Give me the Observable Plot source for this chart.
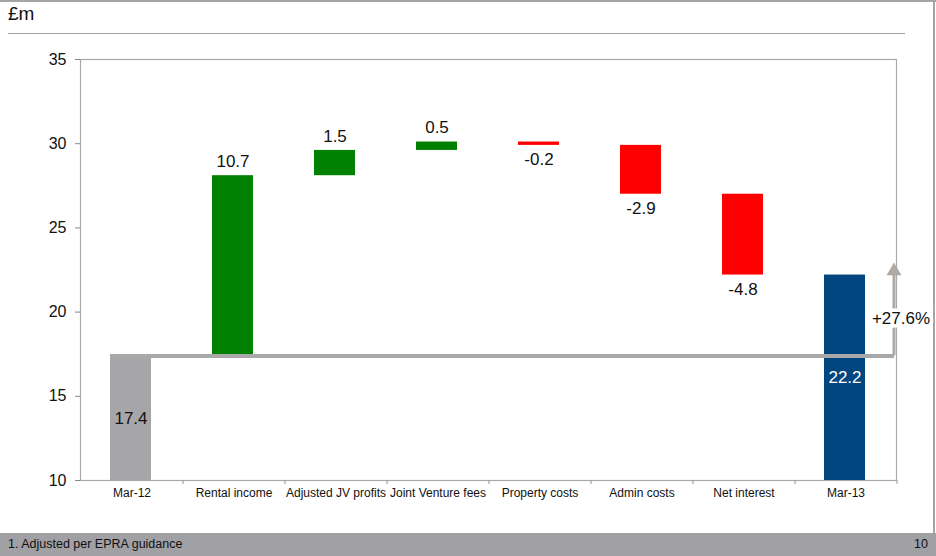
<!DOCTYPE html>
<html>
<head>
<meta charset="utf-8">
<script src="https://cdn.jsdelivr.net/npm/d3@7"></script>
<script src="https://cdn.jsdelivr.net/npm/@observablehq/plot@0.6"></script>
<style>
  html, body { margin: 0; padding: 0; background: #fff; }
  #page { position: relative; width: 936px; height: 556px; overflow: hidden; font-family: "Liberation Sans", Arial, sans-serif; }
  #unit { position: absolute; left: 8px; top: 3px; font-size: 19px; color: #111; }
  #hline { position: absolute; left: 8px; top: 33px; width: 897px; height: 0; border-top: 1px solid #a0a0a0; }
  #topline { position: absolute; left: 0; top: 0; width: 936px; height: 0; border-top: 2px solid #a4a4a4; }
  #rightline { position: absolute; left: 933px; top: 0; width: 0; height: 533px; border-left: 2px solid #a4a4a4; }
  #chart { position: absolute; left: 0; top: 0; }
  #footer { position: absolute; left: 0; top: 533px; width: 936px; height: 23px; background: #a0a0a5; }
  #fnote { position: absolute; left: 8px; top: 4px; font-size: 12.5px; color: #111; }
  #pnum { position: absolute; right: 8px; top: 4px; font-size: 12.5px; color: #111; }
</style>
</head>
<body>
<div id="page">
  <div id="topline"></div>
  <div id="rightline"></div>
  <div id="unit">£m</div>
  <div id="hline"></div>
  <div id="chart"></div>
  <div id="footer"><span id="fnote">1. Adjusted per EPRA guidance</span><span id="pnum">10</span></div>
</div>
<script>
const categories = ["Mar-12", "Rental income", "Adjusted JV profits", "Joint Venture fees", "Property costs", "Admin costs", "Net interest", "Mar-13"];
const values = [17.4, 10.7, 1.5, 0.5, -0.2, -2.9, -4.8, 22.2];
const kinds = ["total", "up", "up", "up", "down", "down", "down", "final"];
const yTicks = [10, 15, 20, 25, 30, 35];
const growthLabel = "+27.6%";

const colors = { total: "#a6a6a9", up: "#008000", down: "#ff0000", final: "#02467f" };
const axisMin = 10;

let running = 0;
const rows = categories.map((c, i) => {
  const v = values[i], k = kinds[i];
  let y1, y2;
  if (k === "total" || k === "final") { y1 = axisMin; y2 = v; running = v; }
  else { y1 = running; y2 = running + v; running = y2; }
  return { cat: c, value: v, kind: k, y1, y2, mid: (axisMin + v) / 2, top: Math.max(y1, y2), bottom: Math.min(y1, y2) };
});
const startVal = values[0];
const endVal = values[values.length - 1];

const fmt = v => v.toFixed(1);

const chart = Plot.plot({
  width: 936,
  height: 533,
  marginTop: 59,
  marginBottom: 53,
  marginLeft: 80,
  marginRight: 40,
  style: { fontFamily: "Liberation Sans, Arial, sans-serif", background: "transparent", overflow: "visible" },
  x: { type: "band", domain: categories, paddingInner: 0.6, paddingOuter: 0.3 },
  y: { domain: [10, 35] },
  marks: [
    Plot.frame({ stroke: "#a8a8a8", strokeWidth: 1.2 }),
    Plot.barY(rows, { x: "cat", y1: "y1", y2: "y2", fill: d => colors[d.kind], dx: -1 }),
    Plot.ruleY([startVal], { stroke: "#a8a8ab", strokeWidth: 4, insetLeft: 30, insetRight: 2 }),
    Plot.ruleX(["Mar-13"], { y1: startVal, y2: endVal, dx: 48, stroke: "#aea9a4", strokeWidth: 3 }),
    Plot.dot(["Mar-13"], { x: d => d, y: endVal, dx: 48, dy: -4, symbol: "triangle", r: 5.5, fill: "#aea9a4", stroke: "none" }),
    Plot.text([growthLabel], { x: () => "Mar-13", y: (startVal + endVal) / 2, dx: 55, dy: 3, text: d => d, fontSize: 17, fill: "#111", stroke: "white", strokeWidth: 7, strokeLinejoin: "miter", textAnchor: "middle" }),
    Plot.text(rows.filter(d => d.kind === "up"), { x: "cat", y: "top", text: d => fmt(d.value), dy: -14, dx: -1, fontSize: 17, fill: "#111" }),
    Plot.text(rows.filter(d => d.kind === "down"), { x: "cat", y: "bottom", text: d => fmt(d.value), dy: 14, dx: -1, fontSize: 17, fill: "#111" }),
    Plot.text(rows.filter(d => d.kind === "total"), { x: "cat", y: "mid", text: d => fmt(d.value), dx: -1, fontSize: 17, fill: "#111" }),
    Plot.text(rows.filter(d => d.kind === "final"), { x: "cat", y: "mid", text: d => fmt(d.value), dx: -1, fontSize: 17, fill: "white" }),
    Plot.axisY({ ticks: yTicks, tickSize: 5, tickPadding: 9, fontSize: 16, label: null, stroke: "#888", color: "#111" }),
    Plot.axisX({ tickSize: 0, tickPadding: 8, fontSize: 12, label: null, color: "#111" }),
    Plot.axisX({ tickSize: 4, tickFormat: () => "", dx: 51, label: null, stroke: "#999" })
  ]
});
document.getElementById("chart").appendChild(chart);
</script>
</body>
</html>
